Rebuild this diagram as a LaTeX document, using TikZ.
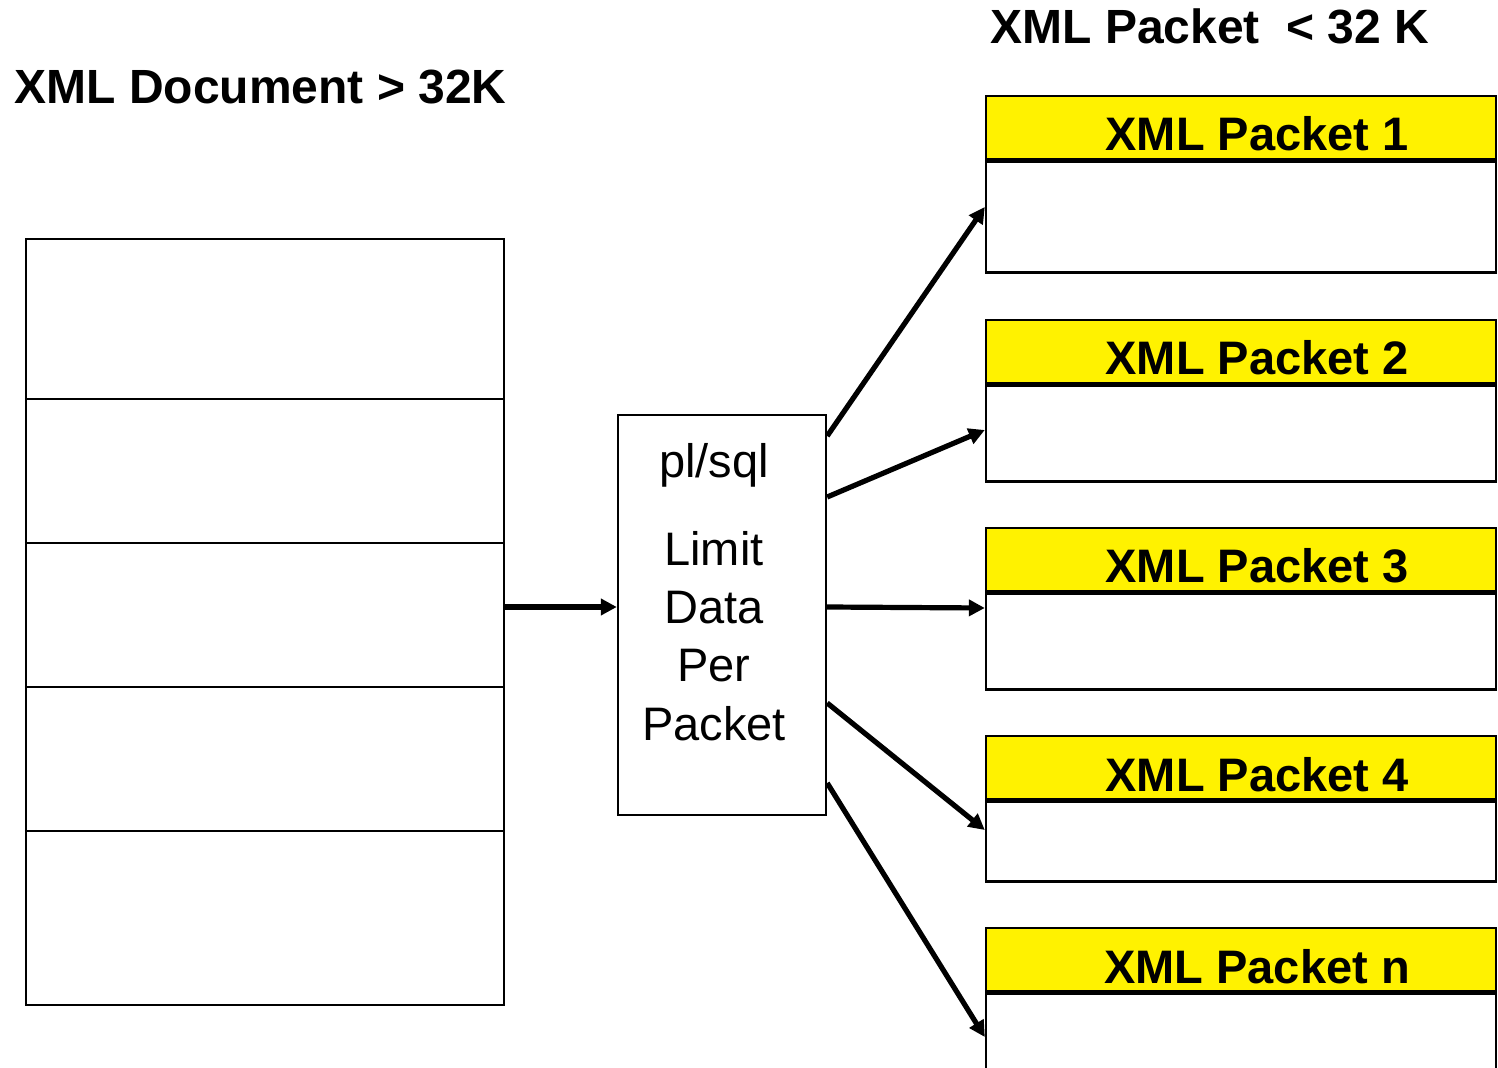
\documentclass[tikz,border=0pt]{standalone}
\usepackage{fontspec}
\setmainfont{Liberation Sans}
\usetikzlibrary{
    arrows.meta,
    positioning
}

\begin{document}
\begin{tikzpicture}[x=0.5pt,y=-0.5pt,
    box/.style={draw,line width=1.2pt,inner sep=0pt},
    band/.style={box,fill=yellow,minimum width=255pt,minimum height=31.5pt},
    body/.style={box,minimum width=255pt},
    title/.style={font=\bfseries\fontsize{24}{28}\selectfont,inner sep=0pt,anchor=base west},
    pktlbl/.style={font=\bfseries\fontsize{23.5}{28}\selectfont,inner sep=0pt,anchor=base},
    midtxt/.style={font=\fontsize{23.5}{28}\selectfont,inner sep=0pt,anchor=base},
    flow/.style={-{Triangle[length=8pt,width=8pt]},line width=2.6pt}]

\useasboundingbox (0,0) rectangle (1498,1068);
\clip (0,0) rectangle (1498,1068);

% Titles
\node[title] (doctitle) at (14,104) {XML Document > 32K};
\node[title] (pkttitle) at (990,44) {XML Packet\ \ < 32 K};

% Big document, cut in parts
\node[box,minimum width=239pt,minimum height=383pt] (doc) at (265,622) {};
\foreach \y in {399,543,687,831}
    \draw[line width=1pt] (doc.west |- 0,\y) -- (doc.east |- 0,\y);

% pl/sql step
\node[box,minimum width=104pt,minimum height=200pt] (mid) at (722,615) {};
\node[midtxt] (tool) at (714,478) {pl/sql};
\foreach \w [count=\i] in {Limit,Data,Per,Packet}
    \node[midtxt] (w\i) at (714,508+58*\i) {\w};

% Packets
\foreach \n/\t/\h in {1/96/111, 2/320/96, 3/528/96, 4/736/80, n/928/140} {
    \node[band] (h\n) at (1241,\t+31.5) {};
    \node[body,minimum height=\h*0.5pt,below=0pt of h\n] (p\n) {};
    \node[pktlbl] (l\n) at (1257,\t+55) {XML Packet \n};
}

% Arrows
\draw[flow] (doc.east |- 0,607) -- (mid.west |- 0,607);
\foreach \a/\b/\n in {436/207/1, 497/430/2, 607/608/3, 703/830/4, 783/1037/n}
    \draw[flow] (mid.east |- 0,\a) -- (p\n.west |- 0,\b);

\end{tikzpicture}
\end{document}
